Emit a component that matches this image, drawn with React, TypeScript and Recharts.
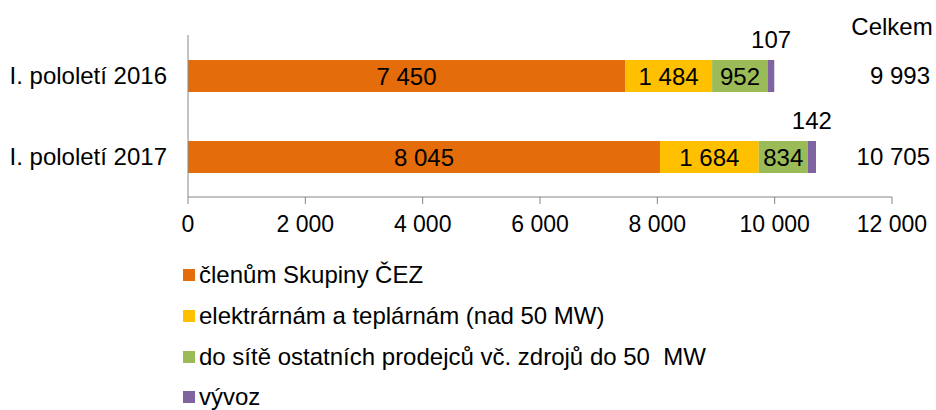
import React from 'react';
import { BarChart, Bar, XAxis, YAxis, LabelList, Legend, Label } from 'recharts';

const categories = ['I. pololetí 2016', 'I. pololetí 2017'];
const clenumSkupiny = [7450, 8045];
const elektrarnam = [1484, 1684];
const doSite = [952, 834];
const vyvoz = [107, 142];
const totals = [9993, 10705];
const xTicks = [0, 2000, 4000, 6000, 8000, 10000, 12000];
const seriesNames = [
  'členům Skupiny ČEZ',
  'elektrárnám a teplárnám (nad 50 MW)',
  'do sítě ostatních prodejců vč. zdrojů do 50  MW',
  'vývoz',
];
const colors = ['#E46C0A', '#FFC000', '#9BBB59', '#8064A2'];
const totalTitle = 'Celkem';

const fmt = (v: any) => String(v).replace(/\B(?=(\d{3})+(?!\d))/g, ' ');

const data = categories.map((c, i) => ({
  cat: c,
  a: clenumSkupiny[i],
  b: elektrarnam[i],
  c: doSite[i],
  d: vyvoz[i],
  total: fmt(totals[i]),
}));

const FONT = '"Liberation Sans", Arial, sans-serif';
const FS = 24;
const TFS = 23;
const AXIS = '#868686';

const renderLegend = (props: any) => {
  const payload = [...(props.payload || [])].sort(
    (p: any, q: any) => seriesNames.indexOf(p.value) - seriesNames.indexOf(q.value)
  );
  return (
    <div style={{ fontFamily: FONT, fontSize: FS, color: '#000' }}>
      {payload.map((p: any, i: number) => (
        <div key={i} style={{ display: 'flex', alignItems: 'center', height: 40.7, whiteSpace: 'pre' }}>
          <span style={{ display: 'inline-block', width: 12, height: 12, background: p.color, marginRight: 4 }} />
          <span>{p.value}</span>
        </div>
      ))}
    </div>
  );
};

const TotalTick = (props: any) => {
  const { x, y, payload } = props;
  return (
    <text x={x} y={y} dy="0.355em" textAnchor="end" fontSize={FS} fill="#000" fontFamily={FONT}>
      {payload.value}
    </text>
  );
};

export default function App() {
  return (
    <div style={{ position: 'absolute', left: 0, top: 0, width: 936, height: 410, background: '#fff' }}>
      <BarChart
        width={936}
        height={410}
        data={data}
        layout="vertical"
        margin={{ top: 35, right: 0, bottom: 183, left: 0 }}
        style={{ fontFamily: FONT }}
      >
        <YAxis
          yAxisId="grid"
          type="number"
          domain={[0, 2]}
          ticks={[0, 1, 2]}
          orientation="left"
          width={0}
          axisLine={false}
          tickLine={{ stroke: AXIS }}
          tickSize={6}
          tickFormatter={() => ''}
          allowDataOverflow
        />
        <YAxis
          yAxisId="cat"
          type="category"
          dataKey="cat"
          width={188}
          axisLine={{ stroke: AXIS }}
          tickLine={false}
          tickSize={6}
          tickMargin={15}
          tick={{ fontSize: FS, fill: '#000' }}
        />
        <YAxis
          yAxisId="tot"
          type="category"
          dataKey="total"
          orientation="right"
          width={44}
          axisLine={false}
          tickLine={false}
          tickSize={0}
          tickMargin={38}
          tick={<TotalTick />}
        >
          <Label value={totalTitle} position="top" offset={0} dx={-22} fontSize={FS} fill="#000" />
        </YAxis>
        <XAxis
          type="number"
          domain={[0, 12000]}
          ticks={xTicks}
          height={30}
          axisLine={{ stroke: AXIS }}
          tickLine={{ stroke: AXIS }}
          tickSize={7}
          tickMargin={12}
          tickFormatter={fmt}
          tick={{ fontSize: TFS, fill: '#000' }}
          interval={0}
        />
        <Legend
          layout="vertical"
          align="center"
          verticalAlign="middle"
          content={renderLegend}
          wrapperStyle={{ position: 'absolute', left: 183, top: 255, width: 720 }}
        />
        <Bar yAxisId="cat" dataKey="a" name={seriesNames[0]} stackId="s" fill={colors[0]} barSize={32} isAnimationActive={false}>
          <LabelList dataKey="a" position="center" formatter={fmt} fontSize={FS} fill="#000" />
        </Bar>
        <Bar yAxisId="cat" dataKey="b" name={seriesNames[1]} stackId="s" fill={colors[1]} barSize={32} isAnimationActive={false}>
          <LabelList dataKey="b" position="center" formatter={fmt} fontSize={FS} fill="#000" />
        </Bar>
        <Bar yAxisId="cat" dataKey="c" name={seriesNames[2]} stackId="s" fill={colors[2]} barSize={32} isAnimationActive={false}>
          <LabelList dataKey="c" position="center" formatter={fmt} fontSize={FS} fill="#000" />
        </Bar>
        <Bar yAxisId="cat" dataKey="d" name={seriesNames[3]} stackId="s" fill={colors[3]} barSize={32} isAnimationActive={false}>
          <LabelList dataKey="d" position="top" offset={12} formatter={fmt} fontSize={FS} fill="#000" />
        </Bar>
      </BarChart>
    </div>
  );
}
